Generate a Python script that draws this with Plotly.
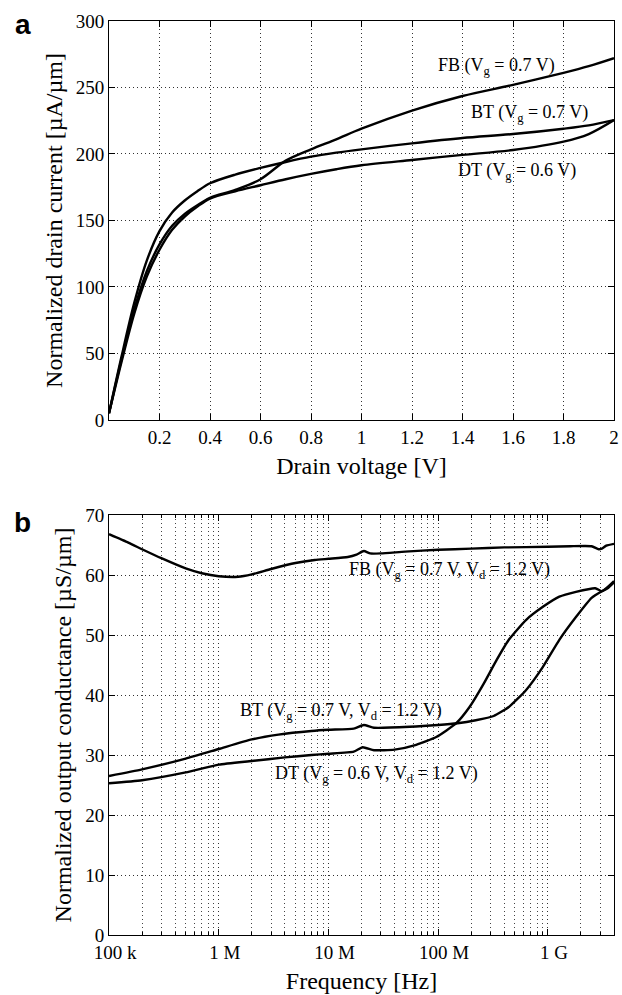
import plotly.graph_objects as go

# ---------------- Panel a data ----------------
vd_bt = [0, 0.05, 0.1, 0.15, 0.2, 0.25, 0.3, 0.35, 0.4, 0.5, 0.6, 0.7, 0.8, 0.9, 1.0, 1.2, 1.4, 1.6, 1.8, 1.9, 2.0]
id_bt = [5, 48, 88, 120, 142, 156, 165, 172, 178, 184.5, 189.5, 194, 198, 201, 203.5, 208, 212, 215, 219, 221.5, 225.5]

vd_dt = [0, 0.05, 0.1, 0.15, 0.2, 0.25, 0.3, 0.35, 0.4, 0.5, 0.6, 0.7, 0.8, 0.9, 1.0, 1.2, 1.4, 1.6, 1.8, 1.9, 2.0]
id_dt = [5, 44, 80, 108, 128, 143, 153, 160.5, 166.5, 172, 176.5, 181, 185, 188.5, 191.5, 195.5, 199.3, 203, 209.3, 215, 225.5]

vd_fb = [0, 0.05, 0.1, 0.15, 0.2, 0.25, 0.3, 0.35, 0.4, 0.5, 0.6, 0.7, 0.8, 0.9, 1.0, 1.2, 1.4, 1.6, 1.8, 1.9, 2.0]
id_fb = [5, 46, 83, 112, 132, 146, 155, 161.5, 167, 173, 181, 195, 203.5, 211, 219, 232.6, 243.6, 252, 261, 266, 272]

# ---------------- Panel b data ----------------
f_fb = [1e5, 1.5e5, 2e5, 3e5, 5e5, 7e5, 1e6, 1.5e6, 2e6, 3e6, 5e6, 7.5e6, 1e7, 1.5e7, 1.8e7,
        2.1e7, 2.4e7, 3e7, 5e7, 1e8, 2e8, 4e8, 1e9, 1.6e9, 2.5e9, 2.9e9, 3.1e9, 3.4e9, 4e9]
g_fb = [66.8, 65.4, 64.3, 62.8, 61.1, 60.3, 59.8, 59.7, 60.1, 61.0, 62.0, 62.5, 62.7, 63.0, 63.4,
        64.0, 63.6, 63.6, 63.9, 64.2, 64.4, 64.6, 64.7, 64.8, 64.8, 64.3, 64.4, 64.9, 65.2]

f_bt = [1e5, 2e5, 5e5, 1e6, 2e6, 3.5e6, 7e6, 1e7, 1.7e7, 2.1e7, 2.6e7, 5.5e7, 1e8, 1.5e8, 2.2e8,
        3.2e8, 4.4e8, 6.3e8, 9e8, 1.27e9, 1.8e9, 2.5e9, 3.1e9, 3.5e9, 4e9]
g_bt = [26.5, 27.6, 29.4, 31.0, 32.6, 33.4, 34.0, 34.2, 34.4, 35.0, 34.55, 34.7, 35.0, 35.3, 35.8,
        36.5, 38.0, 40.8, 44.7, 49.2, 53.0, 56.2, 57.3, 57.8, 58.8]

f_dt = [1e5, 2e5, 5e5, 1e6, 2e6, 4e6, 7e6, 1e7, 1.7e7, 2.05e7, 2.6e7, 4e7, 6.3e7, 9.6e7, 1.46e8,
        1.93e8, 2.6e8, 3.4e8, 4.4e8, 6.3e8, 9e8, 1.27e9, 1.8e9, 2.7e9, 3.1e9, 3.5e9, 4e9]
g_dt = [25.3, 25.8, 27.1, 28.4, 29.0, 29.6, 30.0, 30.2, 30.55, 31.3, 30.8, 30.9, 31.7, 33.0, 35.3,
        38.0, 41.9, 45.8, 49.2, 52.5, 54.7, 56.4, 57.2, 57.8, 57.3, 58.0, 59.0]

xa_ticks = [0.2, 0.4, 0.6, 0.8, 1.0, 1.2, 1.4, 1.6, 1.8, 2.0]
xa_text = ["0.2", "0.4", "0.6", "0.8", "1", "1.2", "1.4", "1.6", "1.8", "2"]
xb_ticks = [1e5, 1e6, 1e7, 1e8, 1e9]
xb_text = ["100 k", "1 M", "10 M", "100 M", "1 G"]

SERIF = "Liberation Serif"
LW = 2.4
GRID_DASH = "1px,3px"

fig = go.Figure()
for x, y in [(vd_fb, id_fb), (vd_bt, id_bt), (vd_dt, id_dt)]:
    fig.add_trace(go.Scatter(x=x, y=y, mode="lines", line=dict(color="black", width=LW, shape="spline", smoothing=0.9),
                             xaxis="x", yaxis="y", showlegend=False, hoverinfo="skip"))
for x, y in [(f_fb, g_fb), (f_bt, g_bt), (f_dt, g_dt)]:
    fig.add_trace(go.Scatter(x=x, y=y, mode="lines", line=dict(color="black", width=LW, shape="spline", smoothing=0.5),
                             xaxis="x2", yaxis="y2", showlegend=False, hoverinfo="skip"))

grid = dict(showgrid=True, gridcolor="#333", gridwidth=1, griddash=GRID_DASH,
            showline=True, linecolor="black", linewidth=1, mirror="allticks",
            ticks="inside", ticklen=6, tickcolor="black", tickwidth=1,
            zeroline=False, ticklabeloverflow="allow",
            tickfont=dict(family=SERIF, size=19, color="black"))

fig.update_layout(
    width=622, height=995,
    margin=dict(l=109, r=3, t=21, b=60),
    paper_bgcolor="white", plot_bgcolor="white",
    xaxis=dict(domain=[0, 1], anchor="y", range=[0, 2], tickmode="array", tickvals=xa_ticks, ticktext=xa_text,
               title=dict(text="Drain voltage [V]", font=dict(family=SERIF, size=24, color="black"), standoff=10),
               **grid),
    yaxis=dict(domain=[0.5635, 1], anchor="x", range=[0, 300], tickmode="linear", tick0=0, dtick=50,
               title=dict(text="Normalized drain current [µA/µm]", font=dict(family=SERIF, size=24, color="black"), standoff=6),
               **grid),
    xaxis2=dict(domain=[0, 1], anchor="y2", type="log", range=[5, 9.602], tickmode="array",
                tickvals=xb_ticks, ticktext=xb_text, ticklabelshift=6,
                minor=dict(ticks="inside", ticklen=3, tickcolor="black", dtick="D1",
                           showgrid=True, gridcolor="#444", griddash=GRID_DASH, gridwidth=1),
                title=dict(text="Frequency [Hz]", font=dict(family=SERIF, size=24, color="black"), standoff=10),
                **grid),
    yaxis2=dict(domain=[0, 0.4595], anchor="x2", range=[0, 70], tickmode="linear", tick0=0, dtick=10,
                title=dict(text="Normalized output conductance [µS/µm]", font=dict(family=SERIF, size=24, color="black"), standoff=6),
                **grid),
)

lab_font = dict(family=SERIF, size=18, color="black")
ann = [
    dict(x=1.536, y=265.5, xref="x", yref="y", text="FB (V<sub>g</sub> = 0.7 V)"),
    dict(x=1.664, y=230.6, xref="x", yref="y", text="BT (V<sub>g</sub> = 0.7 V)"),
    dict(x=1.615, y=186.7, xref="x", yref="y", text="DT (V<sub>g</sub> = 0.6 V)"),
    dict(x=8.106, y=60.8, xref="x2", yref="y2", text="FB (V<sub>g</sub> = 0.7 V, V<sub>d</sub> = 1.2 V)"),
    dict(x=7.111, y=37.2, xref="x2", yref="y2", text="BT (V<sub>g</sub> = 0.7 V, V<sub>d</sub> = 1.2 V)"),
    dict(x=7.441, y=26.7, xref="x2", yref="y2", text="DT (V<sub>g</sub> = 0.6 V, V<sub>d</sub> = 1.2 V)"),
]
for a in ann:
    a.update(showarrow=False, font=lab_font, xanchor="center", yanchor="middle")
    fig.add_annotation(**a)

fig.add_annotation(x=-0.1706, y=0.9967, xref="paper", yref="paper", text="<b>a</b>", showarrow=False,
                   font=dict(family="Liberation Sans", size=28, color="black"), xanchor="center", yanchor="middle")
fig.add_annotation(x=-0.1706, y=0.4508, xref="paper", yref="paper", text="<b>b</b>", showarrow=False,
                   font=dict(family="Liberation Sans", size=28, color="black"), xanchor="center", yanchor="middle")

fig.write_html("out.html", config={"displayModeBar": False},
               post_script="document.body.style.margin='0';document.body.style.overflow='hidden';")
